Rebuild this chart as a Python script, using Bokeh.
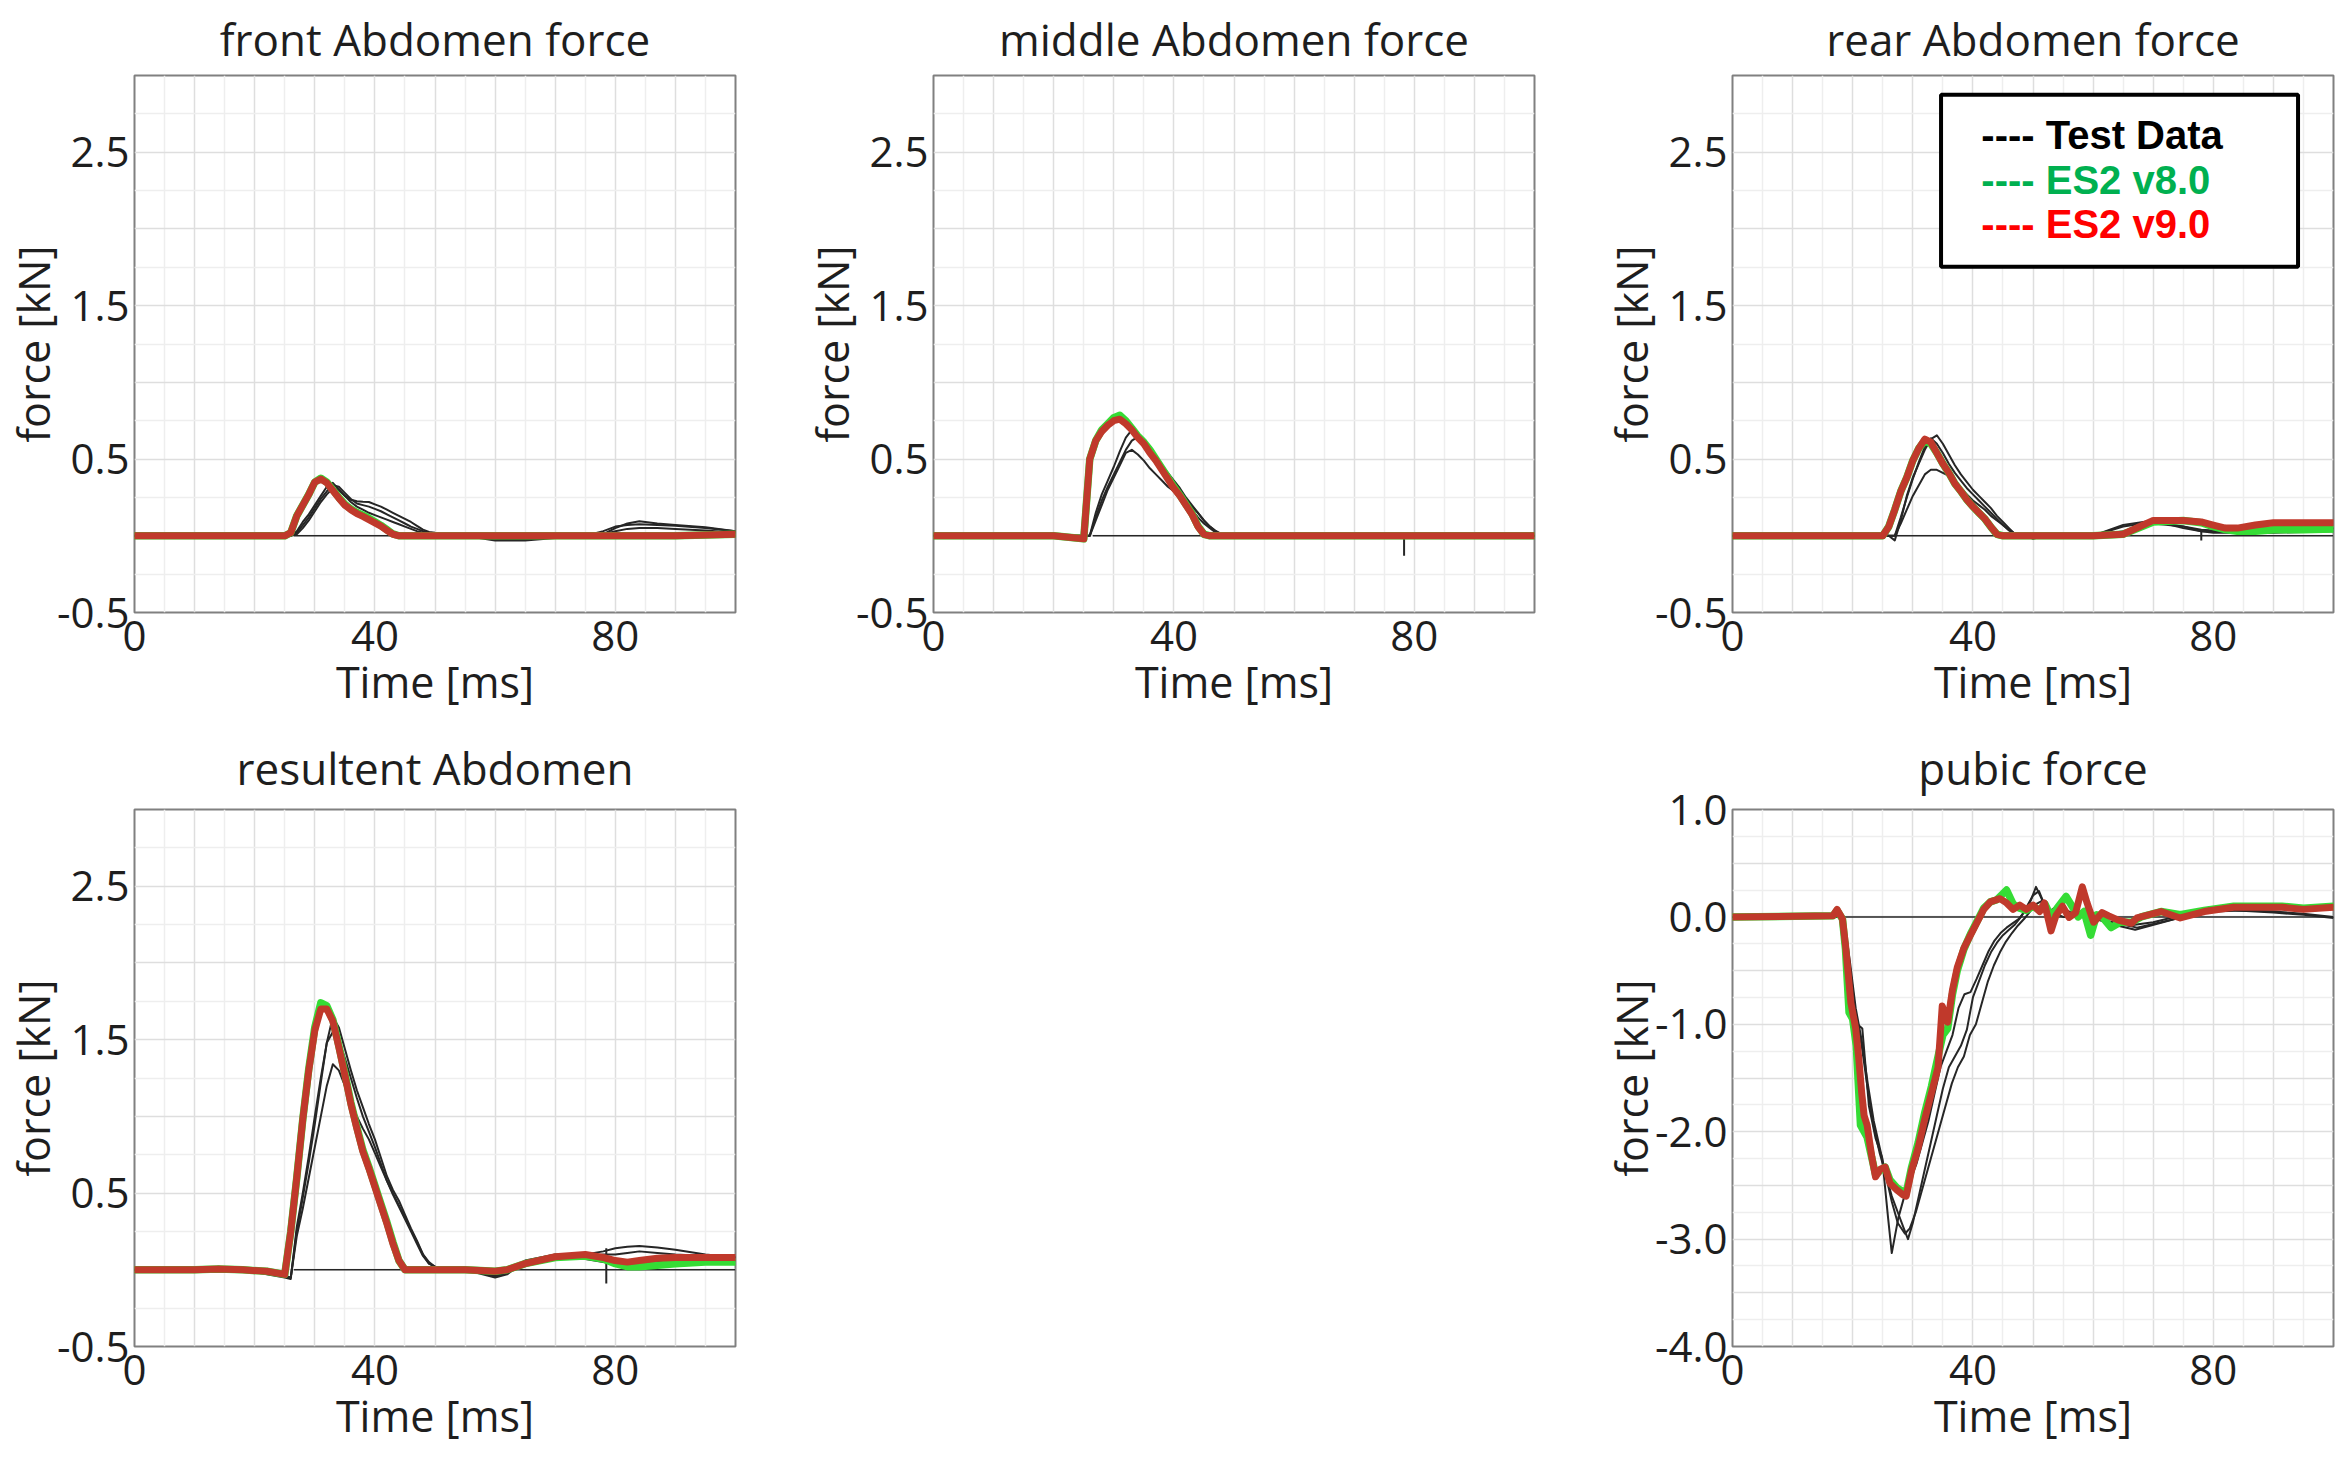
from bokeh.plotting import figure
from bokeh.layouts import row, column, Spacer
from bokeh.models import Range1d, FixedTicker, NumeralTickFormatter, Label, BoxAnnotation
from bokeh.embed import file_html
from bokeh.resources import INLINE

# ---------------- data ----------------
# shared time grid [ms] for the three upper abdomen panels
T_ABD = [0, 10, 20, 25,
         26, 27, 28, 29, 30, 31, 32, 33, 34, 35,
         36, 37, 38, 39, 40, 41, 42, 43, 44, 45,
         46, 47, 48, 49, 50,
         52, 55, 60, 65, 70, 75, 78, 80, 82, 84, 87, 90, 95, 100]

FRONT_V9 = [0, 0, 0, 0,
            0.02, 0.13, 0.20, 0.27, 0.35, 0.37, 0.345, 0.295, 0.245, 0.20,
            0.17, 0.145, 0.126, 0.105, 0.084, 0.063, 0.036, 0.01, 0, 0,
            0, 0, 0, 0, 0,
            0, 0, 0, 0, 0, 0, 0, 0, 0, 0, 0, 0, 0.005, 0.01]
FRONT_V8 = [0, 0, 0, 0,
            0.02, 0.13, 0.20, 0.27, 0.35, 0.375, 0.35, 0.30, 0.25, 0.205,
            0.175, 0.152, 0.135, 0.115, 0.092, 0.068, 0.04, 0.012, 0, 0,
            0, 0, 0, 0, 0,
            0, 0, 0, 0, 0, 0, 0, 0, 0, 0, 0, 0, 0.005, 0.01]
FRONT_TEST_A = [0, 0, 0, 0,
                0, 0.03, 0.09, 0.14, 0.20, 0.26, 0.32, 0.345, 0.30, 0.26,
                0.235, 0.225, 0.222, 0.22, 0.205, 0.19, 0.17, 0.15, 0.13, 0.11,
                0.09, 0.065, 0.04, 0.025, 0.02,
                0.015, 0.005, -0.02, -0.025, -0.01, 0, 0.01, 0.05, 0.08, 0.095, 0.08, 0.07, 0.055, 0.03]
FRONT_TEST_B = [0, 0, 0, 0,
                0, 0.02, 0.07, 0.12, 0.18, 0.24, 0.29, 0.33, 0.32, 0.28,
                0.24, 0.21, 0.20, 0.19, 0.175, 0.16, 0.14, 0.12, 0.10, 0.08,
                0.06, 0.045, 0.03, 0.02, 0.01,
                0.005, 0, -0.03, -0.03, -0.015, 0, 0.03, 0.06, 0.07, 0.075, 0.07, 0.065, 0.05, 0.03]
FRONT_TEST_C = [0, 0, 0, 0,
                0, 0.01, 0.05, 0.10, 0.16, 0.22, 0.27, 0.31, 0.30, 0.26,
                0.22, 0.19, 0.17, 0.15, 0.135, 0.12, 0.105, 0.09, 0.075, 0.06,
                0.045, 0.03, 0.02, 0.015, 0.01,
                0.005, 0, -0.02, -0.02, -0.01, 0, 0.01, 0.03, 0.045, 0.05, 0.05, 0.045, 0.035, 0.02]

MIDDLE_V9 = [0, 0, 0, -0.02,
             0.50, 0.62, 0.68, 0.72, 0.75, 0.76, 0.73, 0.69, 0.64, 0.60,
             0.54, 0.49, 0.43, 0.37, 0.31, 0.26, 0.20, 0.14, 0.06, 0.01,
             0, 0, 0, 0, 0,
             0, 0, 0, 0, 0, 0, 0, 0, 0, 0, 0, 0, 0, 0]
MIDDLE_V8 = [0, 0, 0, -0.02,
             0.50, 0.62, 0.69, 0.73, 0.77, 0.785, 0.75, 0.70, 0.65, 0.61,
             0.56, 0.50, 0.44, 0.38, 0.32, 0.265, 0.205, 0.145, 0.065, 0.01,
             0, 0, 0, 0, 0,
             0, 0, 0, 0, 0, 0, 0, 0, 0, 0, 0, 0, 0, 0]
MIDDLE_TEST_A = [0, 0, 0, 0,
                 0, 0.15, 0.27, 0.36, 0.45, 0.55, 0.64, 0.69, 0.66, 0.61,
                 0.56, 0.51, 0.46, 0.41, 0.36, 0.31, 0.25, 0.20, 0.15, 0.10,
                 0.06, 0.03, 0.005, 0, 0,
                 0, 0, 0, 0, 0, 0, 0, 0, 0, 0, 0, 0, 0, 0]
MIDDLE_TEST_B = [0, 0, 0, 0,
                 0, 0.12, 0.23, 0.32, 0.40, 0.48, 0.56, 0.62, 0.645, 0.62,
                 0.57, 0.52, 0.46, 0.40, 0.34, 0.28, 0.22, 0.17, 0.12, 0.08,
                 0.05, 0.02, 0, 0, 0,
                 0, 0, 0, 0, 0, 0, 0, 0, 0, 0, 0, 0, 0, 0]
MIDDLE_TEST_C = [0, 0, 0, 0,
                 0, 0.10, 0.20, 0.30, 0.38, 0.46, 0.54, 0.56, 0.53, 0.49,
                 0.44, 0.40, 0.36, 0.32, 0.29, 0.26, 0.23, 0.19, 0.15, 0.10,
                 0.06, 0.03, 0.01, 0, 0,
                 0, 0, 0, 0, 0, 0, 0, 0, 0, 0, 0, 0, 0, 0]
MIDDLE_SPIKE_T = [78.3, 78.3]
MIDDLE_SPIKE_V = [0.0, -0.13]

REAR_V9 = [0, 0, 0, 0,
           0.06, 0.17, 0.29, 0.38, 0.49, 0.57, 0.63, 0.61, 0.54, 0.47,
           0.41, 0.34, 0.29, 0.235, 0.19, 0.15, 0.11, 0.057, 0.01, 0,
           0, 0, 0, 0, 0,
           0, 0, 0, 0.01, 0.10, 0.10, 0.09, 0.07, 0.05, 0.05, 0.07, 0.085, 0.085, 0.085]
REAR_V8 = [0, 0, 0, 0,
           0.06, 0.17, 0.29, 0.38, 0.49, 0.57, 0.62, 0.60, 0.54, 0.47,
           0.41, 0.34, 0.29, 0.235, 0.19, 0.15, 0.11, 0.057, 0.01, 0,
           0, 0, 0, 0, 0,
           0, 0, 0, 0.01, 0.09, 0.10, 0.085, 0.06, 0.04, 0.03, 0.03, 0.04, 0.04, 0.045]
REAR_TEST_A = [0, 0, 0, 0,
               0, -0.03, 0.10, 0.26, 0.38, 0.47, 0.56, 0.63, 0.655, 0.60,
               0.53, 0.46, 0.40, 0.35, 0.30, 0.26, 0.22, 0.18, 0.13, 0.09,
               0.05, 0.01, 0, 0, -0.02,
               0, 0, 0, 0.07, 0.10, 0.05, 0.03, 0.03, 0.03, 0.03, 0.03, 0.03, 0.04, 0.045]
REAR_TEST_B = [0, 0, 0, 0,
               0, 0, 0.12, 0.25, 0.37, 0.48, 0.58, 0.635, 0.60, 0.54,
               0.47, 0.41, 0.36, 0.31, 0.27, 0.23, 0.19, 0.15, 0.11, 0.07,
               0.035, 0.01, 0, 0, 0,
               0, 0, 0, 0.06, 0.09, 0.06, 0.04, 0.035, 0.03, 0.03, 0.035, 0.04, 0.05, 0.05]
REAR_TEST_C = [0, 0, 0, 0,
               0, 0, 0.08, 0.17, 0.26, 0.33, 0.40, 0.43, 0.43, 0.41,
               0.39, 0.35, 0.31, 0.27, 0.23, 0.20, 0.17, 0.13, 0.10, 0.07,
               0.04, 0.015, 0, 0, 0,
               0, 0, 0, 0.03, 0.08, 0.06, 0.03, 0.02, 0.02, 0.02, 0.02, 0.02, 0.025, 0.03]
REAR_SPIKE_T = [78.0, 78.0]
REAR_SPIKE_V = [0.035, -0.03]

# resultant abdomen panel
T_RES = [0, 10, 14, 18, 22, 25,
         26, 27, 28, 29, 30, 31, 32, 33, 34, 35,
         36, 37, 38, 39, 40, 41, 42, 43, 44, 45,
         46, 47, 48, 49, 50,
         52, 55, 60, 62, 65, 70, 75, 78, 80, 82, 84, 87, 90, 95, 100]
RES_V9 = [0, 0, 0.005, 0, -0.01, -0.03,
          0.25, 0.60, 0.98, 1.30, 1.56, 1.70, 1.70, 1.62, 1.45, 1.27,
          1.08, 0.92, 0.77, 0.66, 0.54, 0.42, 0.30, 0.17, 0.06, 0,
          0, 0, 0, 0, 0,
          0, 0, -0.01, 0, 0.04, 0.085, 0.10, 0.08, 0.06, 0.05, 0.06, 0.075, 0.08, 0.08, 0.08]
RES_V8 = [0, 0, 0.005, 0, -0.01, -0.03,
          0.25, 0.60, 0.98, 1.31, 1.58, 1.74, 1.72, 1.63, 1.46, 1.28,
          1.09, 0.93, 0.78, 0.67, 0.55, 0.43, 0.31, 0.18, 0.06, 0,
          0, 0, 0, 0, 0,
          0, 0, -0.01, 0, 0.04, 0.08, 0.09, 0.07, 0.04, 0.02, 0.02, 0.03, 0.04, 0.05, 0.05]
RES_TEST_A = [0, 0, 0.02, 0, -0.03, -0.05,
              -0.06, 0.28, 0.50, 0.74, 1.00, 1.25, 1.48, 1.65, 1.58, 1.44,
              1.30, 1.17, 1.06, 0.95, 0.85, 0.73, 0.61, 0.52, 0.45, 0.36,
              0.27, 0.19, 0.10, 0.04, 0.02,
              0.01, 0, -0.05, -0.03, 0.06, 0.10, 0.10, 0.12, 0.14, 0.15, 0.155, 0.145, 0.13, 0.10, 0.08]
RES_TEST_B = [0, 0, 0.01, 0, -0.02, -0.04,
              -0.05, 0.25, 0.47, 0.70, 0.95, 1.22, 1.48, 1.55, 1.50, 1.38,
              1.25, 1.12, 1.00, 0.90, 0.80, 0.69, 0.58, 0.49, 0.41, 0.33,
              0.25, 0.17, 0.09, 0.04, 0.02,
              0.01, 0, -0.04, -0.02, 0.05, 0.09, 0.09, 0.10, 0.10, 0.11, 0.12, 0.11, 0.10, 0.09, 0.08]
RES_TEST_C = [0, 0, 0.01, 0, -0.02, -0.04,
              -0.05, 0.22, 0.40, 0.60, 0.80, 1.00, 1.20, 1.34, 1.30, 1.20,
              1.10, 1.00, 0.92, 0.85, 0.76, 0.67, 0.58, 0.50, 0.42, 0.34,
              0.26, 0.18, 0.10, 0.05, 0.02,
              0.01, 0, -0.04, -0.02, 0.03, 0.07, 0.07, 0.05, 0.04, 0.04, 0.045, 0.05, 0.06, 0.06, 0.06]
RES_SPIKE_T = [78.5, 78.5]
RES_SPIKE_V = [0.14, -0.09]

# pubic force panel
PUB_V9_T = [0, 16.7, 17.4, 18.3, 18.8, 19.4, 19.7, 20.5, 21.0, 21.5, 21.9, 22.4, 23.2, 23.8, 24.6,
            25.4, 26.2, 27.3, 28.4, 28.9, 29.8, 30.9, 32.0, 33.1, 34.2, 34.9, 35.8, 36.6, 37.4,
            38.5, 39.6, 40.7, 41.8, 42.9, 44.5, 45.6, 46.7, 47.8, 48.9, 50.0, 51.1, 51.9, 53.0,
            53.8, 54.9, 56.0, 57.1, 58.2, 59.0, 60.1, 61.5, 62.6, 64.2, 66.4, 67.3, 71.3, 74.5,
            78.5, 83.4, 87.4, 91.4, 95.0, 100]
PUB_V9 = [0.0, 0.01, 0.07, -0.02, -0.26, -0.62, -0.80, -1.04, -1.31, -1.64, -1.85, -1.94, -2.24, -2.42, -2.35,
          -2.33, -2.48, -2.54, -2.59, -2.60, -2.36, -2.15, -1.88, -1.64, -1.40, -0.83, -0.98, -0.68, -0.47,
          -0.29, -0.17, -0.05, 0.07, 0.14, 0.17, 0.13, 0.07, 0.11, 0.07, 0.11, 0.05, 0.13, -0.13,
          0.01, 0.10, -0.005, 0.04, 0.28, 0.13, -0.05, 0.04, 0.01, -0.03, -0.06, -0.01, 0.05, -0.01,
          0.05, 0.09, 0.09, 0.09, 0.07, 0.09]
PUB_V8_T = [0, 16.7, 17.4, 18.3, 18.8, 19.4, 20.0, 20.6, 21.3, 21.9, 22.4, 23.2, 23.8, 24.6,
            25.4, 26.2, 27.3, 28.4, 28.9, 29.8, 30.9, 32.0, 33.1, 34.2, 35.0, 35.8, 36.6, 37.4,
            38.5, 39.6, 40.7, 41.8, 42.9, 44.0, 45.6, 46.7, 47.8, 48.9, 50.0, 51.1, 52.0, 53.0,
            54.0, 55.5, 56.5, 57.5, 58.5, 59.6, 60.6, 61.5, 63.0, 64.5, 66.4, 68.0, 71.3, 74.5,
            78.5, 83.4, 87.4, 91.4, 95.0, 100]
PUB_V8 = [0.0, 0.01, 0.06, -0.02, -0.30, -0.89, -0.95, -1.20, -1.94, -2.00, -2.05, -2.25, -2.40, -2.36,
          -2.33, -2.45, -2.52, -2.56, -2.57, -2.33, -2.10, -1.82, -1.58, -1.30, -1.10, -1.04, -0.72, -0.50,
          -0.30, -0.16, -0.04, 0.08, 0.14, 0.16, 0.25, 0.12, 0.08, 0.06, 0.10, 0.06, 0.12, 0.0,
          0.08, 0.19, 0.10, 0.0, 0.05, -0.17, 0.02, 0.0, -0.10, -0.05, -0.05, 0.0, 0.05, 0.02,
          0.06, 0.10, 0.10, 0.10, 0.08, 0.10]
PUB_TEST_A_T = [0, 18.0, 18.6, 19.4, 20.0, 20.8, 21.6, 22.7, 23.8, 24.9, 25.9, 26.5, 27.6, 28.6, 29.6,
                30.6, 31.6, 32.6, 33.6, 34.6, 35.6, 36.6, 37.6, 38.6, 39.6, 40.6, 41.6, 42.6, 43.6,
                44.6, 45.6, 46.6, 47.6, 48.6, 49.6, 50.5, 51.6, 52.7, 54, 56, 58, 60, 62, 64, 67.3,
                71.3, 75, 79.4, 84, 90, 95, 100]
PUB_TEST_A = [0, 0, -0.10, -0.50, -0.86, -1.00, -1.04, -1.76, -2.06, -2.24, -2.81, -3.13, -2.80, -2.60, -2.45,
              -2.30, -2.10, -1.90, -1.65, -1.40, -1.25, -1.10, -0.85, -0.72, -0.70, -0.58, -0.45, -0.32, -0.22,
              -0.15, -0.10, -0.06, -0.02, 0.05, 0.15, 0.28, 0.15, 0.05, 0.10, 0.0, 0.05, 0.02, -0.03, -0.06, -0.10,
              -0.05, 0.0, 0.09, 0.06, 0.04, 0.02, -0.01]
PUB_TEST_B_T = [0, 18.5, 19.5, 20.5, 21.5, 22.5, 23.5, 24.5, 25.5, 26.5, 27.5, 28.5, 29.2, 30.0, 31.0,
                32.0, 33.0, 34.0, 35.0, 36.0, 37.0, 38.0, 39.0, 40.0, 41.0, 42.0, 43.0, 44.0, 45.0,
                46.0, 47.0, 48.0, 49.0, 50.0, 51.0, 52.0, 53.0, 55.0, 57.0, 59.0, 61.0, 64.0, 67.0,
                71.0, 75.0, 80.0, 85.0, 90.0, 95.0, 100]
PUB_TEST_B = [0, 0, -0.45, -0.90, -1.20, -1.60, -1.95, -2.20, -2.40, -2.60, -2.75, -2.90, -3.00, -2.85, -2.60,
              -2.35, -2.10, -1.85, -1.60, -1.40, -1.30, -1.20, -1.05, -0.75, -0.60, -0.45, -0.33, -0.24, -0.17,
              -0.12, -0.07, 0.0, 0.10, 0.20, 0.24, 0.10, 0.02, 0.08, 0.02, 0.0, -0.03, -0.08, -0.12,
              -0.06, 0.0, 0.08, 0.07, 0.07, 0.08, 0.10]
PUB_TEST_C_T = [0, 18.5, 19.5, 20.5, 21.5, 22.5, 23.5, 24.5, 25.5, 26.5, 27.5, 28.7, 29.5, 30.5, 31.5,
                32.5, 33.5, 34.5, 35.5, 36.5, 37.5, 38.5, 39.5, 40.5, 41.5, 42.5, 43.5, 44.5, 45.5,
                46.5, 47.5, 48.5, 49.5, 50.5, 51.5, 53, 55, 58, 62, 66, 70, 75, 80, 85, 90, 95, 100]
PUB_TEST_C = [0, 0, -0.40, -0.85, -1.15, -1.55, -1.90, -2.15, -2.40, -2.65, -2.85, -2.95, -2.90, -2.75, -2.55,
              -2.35, -2.15, -1.95, -1.75, -1.55, -1.40, -1.30, -1.10, -1.00, -0.80, -0.60, -0.45, -0.33, -0.23,
              -0.15, -0.08, -0.02, 0.05, 0.12, 0.15, 0.05, 0.0, 0.02, -0.04, -0.08, -0.05, 0.02, 0.05, 0.06,
              0.05, 0.03, 0.0]

# thin zero reference line drawn by the test traces after the impact starts
ZERO_LINE_ABD_T = [26.5, 100]
ZERO_LINE_PUB_T = [18.0, 100]
ZERO_LINE_V = [0.0, 0.0]

# axes
X_TICKS = [0, 40, 80]
X_GRID_MAJOR = [0, 10, 20, 30, 40, 50, 60, 70, 80, 90, 100]
X_GRID_MINOR = [5, 15, 25, 35, 45, 55, 65, 75, 85, 95]
Y_TICKS_ABD = [-0.5, 0.5, 1.5, 2.5]
Y_GRID_ABD_MAJOR = [-0.5, 0.0, 0.5, 1.0, 1.5, 2.0, 2.5, 3.0]
Y_GRID_ABD_MINOR = [-0.25, 0.25, 0.75, 1.25, 1.75, 2.25, 2.75]
Y_TICKS_PUB = [-4.0, -3.0, -2.0, -1.0, 0.0, 1.0]
Y_GRID_PUB_MAJOR = [-4.0, -3.5, -3.0, -2.5, -2.0, -1.5, -1.0, -0.5, 0.0, 0.5, 1.0]
Y_GRID_PUB_MINOR = [-3.75, -3.25, -2.75, -2.25, -1.75, -1.25, -0.75, -0.25, 0.25, 0.75]

TITLES = ["front Abdomen force", "middle Abdomen force", "rear Abdomen force",
          "resultent Abdomen", "pubic force"]
LEGEND_TEXTS = ["---- Test Data", "---- ES2 v8.0", "---- ES2 v9.0"]
LEGEND_COLORS = ["#000000", "#00b050", "#ff0000"]

# ---------------- styling / layout ----------------
FONT = "Open Sans"
TXT = "#1e1e1e"
RED = "#c0392b"
GREEN = "#35dc35"
BLACK = "#262626"

FRAME_W = 608
FRAME_H = 545
LEFT = 127
COL_W = 799
TOP1, BOT1, GAP1 = 67, 111, 13
TOP2, BOT2, GAP2 = 78, 112, 24


def make_fig(title, y_rng, y_ticks, y_grid_major, y_grid_minor, width, right, top, bottom, gap):
    height = top + FRAME_H + bottom
    p = figure(width=width, height=height, x_range=Range1d(0, 100), y_range=Range1d(*y_rng),
               output_backend="svg", toolbar_location=None,
               min_border_left=LEFT, min_border_right=right,
               min_border_top=top, min_border_bottom=bottom)
    p.title.text = title
    p.title.align = "center"
    p.title.text_font = FONT
    p.title.text_font_size = "44px"
    p.title.text_font_style = "normal"
    p.title.text_color = TXT
    p.title.standoff = gap
    p.background_fill_color = "white"
    p.border_fill_color = "white"
    p.outline_line_color = "#808080"
    p.outline_line_width = 2

    p.xaxis.ticker = FixedTicker(ticks=X_TICKS)
    p.yaxis.ticker = FixedTicker(ticks=y_ticks)
    p.yaxis.formatter = NumeralTickFormatter(format="0.0")
    p.xaxis.axis_label = "Time [ms]"
    p.yaxis.axis_label = "force [kN]"
    for ax in (p.xaxis[0], p.yaxis[0]):
        ax.axis_line_color = None
        ax.major_tick_line_color = None
        ax.minor_tick_line_color = None
        ax.major_tick_out = 0
        ax.major_tick_in = 0
        ax.minor_tick_out = 0
        ax.minor_tick_in = 0
        ax.major_label_text_font = FONT
        ax.major_label_text_font_size = "42px"
        ax.major_label_text_color = TXT
        ax.axis_label_text_font = FONT
        ax.axis_label_text_font_size = "43px"
        ax.axis_label_text_font_style = "normal"
        ax.axis_label_text_color = TXT
    p.xaxis.major_label_standoff = 8
    p.xaxis.axis_label_standoff = -2
    p.yaxis.major_label_standoff = 5
    p.yaxis.axis_label_standoff = -9

    p.xgrid.ticker = FixedTicker(ticks=X_GRID_MAJOR, minor_ticks=X_GRID_MINOR)
    p.ygrid.ticker = FixedTicker(ticks=y_grid_major, minor_ticks=y_grid_minor)
    for g in (p.xgrid[0], p.ygrid[0]):
        g.grid_line_color = "#dedede"
        g.grid_line_width = 1.5
        g.minor_grid_line_color = "#eeeeee"
        g.minor_grid_line_width = 1.5
    return p


def draw(p, t_tests, v_tests, t8, v8, t9, v9, zero_t, spike=None):
    p.line(zero_t, ZERO_LINE_V, line_color=BLACK, line_width=1.5)
    for tt, vv in zip(t_tests, v_tests):
        n = min(len(tt), len(vv))
        p.line(tt[:n], vv[:n], line_color=BLACK, line_width=2, line_join="round")
    if spike is not None:
        p.line(spike[0], spike[1], line_color=BLACK, line_width=2)
    n8 = min(len(t8), len(v8))
    p.line(t8[:n8], v8[:n8], line_color=GREEN, line_width=7.5, line_join="round", line_cap="round")
    n9 = min(len(t9), len(v9))
    p.line(t9[:n9], v9[:n9], line_color=RED, line_width=7, line_join="round", line_cap="round")


ABD = ((-0.5, 3.0), Y_TICKS_ABD, Y_GRID_ABD_MAJOR, Y_GRID_ABD_MINOR)
PUB = ((-4.0, 1.0), Y_TICKS_PUB, Y_GRID_PUB_MAJOR, Y_GRID_PUB_MINOR)

p_front = make_fig(TITLES[0], *ABD, COL_W, COL_W - LEFT - FRAME_W, TOP1, BOT1, GAP1)
draw(p_front, [T_ABD] * 3, [FRONT_TEST_A, FRONT_TEST_B, FRONT_TEST_C],
     T_ABD, FRONT_V8, T_ABD, FRONT_V9, ZERO_LINE_ABD_T)

p_middle = make_fig(TITLES[1], *ABD, COL_W, COL_W - LEFT - FRAME_W, TOP1, BOT1, GAP1)
draw(p_middle, [T_ABD] * 3, [MIDDLE_TEST_A, MIDDLE_TEST_B, MIDDLE_TEST_C],
     T_ABD, MIDDLE_V8, T_ABD, MIDDLE_V9, ZERO_LINE_ABD_T, (MIDDLE_SPIKE_T, MIDDLE_SPIKE_V))

p_rear = make_fig(TITLES[2], *ABD, LEFT + FRAME_W + 2, 2, TOP1, BOT1, GAP1)
draw(p_rear, [T_ABD] * 3, [REAR_TEST_A, REAR_TEST_B, REAR_TEST_C],
     T_ABD, REAR_V8, T_ABD, REAR_V9, ZERO_LINE_ABD_T, (REAR_SPIKE_T, REAR_SPIKE_V))

# legend drawn as a framed text box inside the rear panel
p_rear.add_layout(BoxAnnotation(left=34.7, right=94.1, bottom=1.753, top=2.874,
                                fill_color="white", fill_alpha=1.0,
                                line_color="black", line_alpha=1.0, line_width=4))
for txt, col, yy in zip(LEGEND_TEXTS, LEGEND_COLORS, [2.609, 2.321, 2.031]):
    p_rear.add_layout(Label(x=41.4, y=yy, text=txt, text_color=col,
                            text_font="Liberation Sans", text_font_style="bold",
                            text_font_size="40px", text_baseline="middle"))

p_res = make_fig(TITLES[3], *ABD, COL_W, COL_W - LEFT - FRAME_W, TOP2, BOT2, GAP2)
draw(p_res, [T_RES] * 3, [RES_TEST_A, RES_TEST_B, RES_TEST_C],
     T_RES, RES_V8, T_RES, RES_V9, ZERO_LINE_ABD_T, (RES_SPIKE_T, RES_SPIKE_V))

p_pub = make_fig(TITLES[4], *PUB, LEFT + FRAME_W + 2, 2, TOP2, BOT2, GAP2)
draw(p_pub, [PUB_TEST_A_T, PUB_TEST_B_T, PUB_TEST_C_T], [PUB_TEST_A, PUB_TEST_B, PUB_TEST_C],
     PUB_V8_T, PUB_V8, PUB_V9_T, PUB_V9, ZERO_LINE_PUB_T)

layout = column(row(p_front, p_middle, p_rear),
                row(p_res, Spacer(width=COL_W, height=TOP2 + FRAME_H + BOT2), p_pub))

open("out.html", "w").write(file_html(layout, INLINE, title="Abdomen and pubic force"))
